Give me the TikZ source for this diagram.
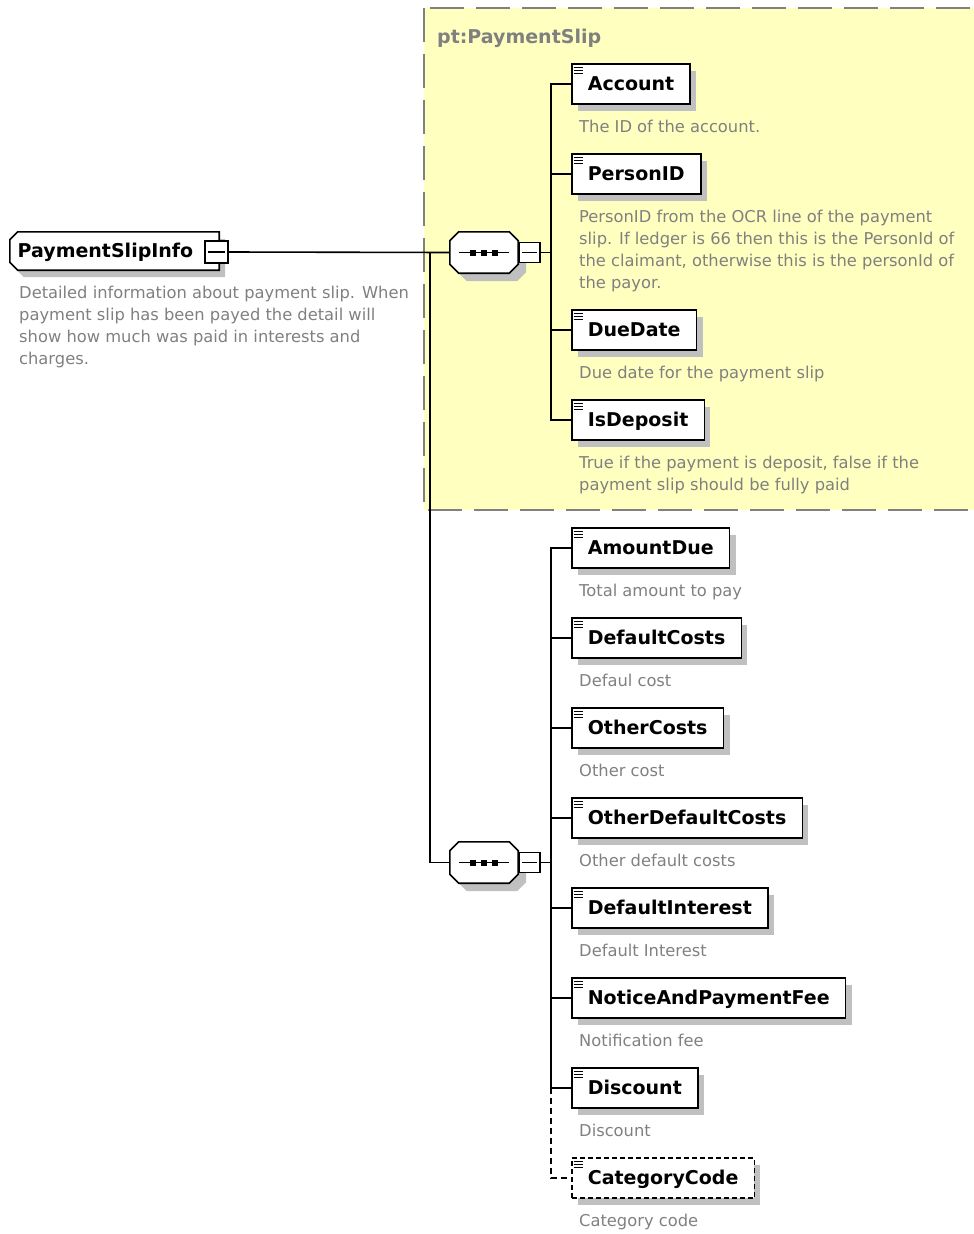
\documentclass[tikz,border=0pt]{standalone}
\usepackage{fontspec}
\setmainfont{DejaVu Sans}
\usetikzlibrary{calc,shadows}

\definecolor{slipyellow}{RGB}{255,255,192}
\definecolor{boxshadow}{RGB}{192,192,192}
\definecolor{doctext}{RGB}{128,128,128}
\definecolor{groupline}{RGB}{128,128,128}

\pgfdeclarelayer{bg}
\pgfdeclarelayer{wires}
\pgfdeclarelayer{outlines}
\pgfsetlayers{bg,wires,outlines,main}

\tikzset{
  shade box/.style={drop shadow={shadow xshift=6pt, shadow yshift=-7pt, fill=boxshadow, opacity=1}},
  labelfont/.style={font=\fontsize{19}{22}\selectfont\bfseries},
  elem/.style={draw, line width=1.6pt, fill=white, rectangle, anchor=west,
    minimum height=40pt, inner xsep=16pt, inner ysep=0pt,
    text height=15pt, text depth=3pt, labelfont, shade box},
  optelem/.style={elem, dash pattern=on 5pt off 3pt},
  rootbox/.style={rectangle, minimum width=209pt, minimum height=38pt,
    inner sep=0pt, text height=15pt, text depth=3pt, labelfont},
  seq/.style={rectangle, minimum width=68pt, minimum height=41pt, inner sep=0pt},
  outline/.style={draw, line width=1.6pt, fill=white},
  shadowfill/.style={fill=boxshadow},
  fold/.style={draw, line width=1.4pt, fill=white, rectangle, minimum width=21pt,
    minimum height=20pt, inner sep=0pt},
  doc/.style={anchor=base west, inner sep=0pt, text=doctext, font=\fontsize{16.3}{22}\selectfont},
  wire/.style={line width=1.6pt},
  optwire/.style={wire, dash pattern=on 6pt off 4pt},
  minus/.style={line width=1.5pt},
  icon/.style={line width=1.2pt},
}

% three-bar element marker in the upper left corner of a box
\newcommand\elemmark[1]{%
  \foreach \dy in {4,7,10} \draw[icon] ($(#1.north west)+(2.5,\dy)$) -- ++(9,0);}
% sequence compositor glyph: a bar with three dots
\newcommand\seqglyph[1]{%
  \draw[minus] ($(#1.west)+(9,0)$) -- ($(#1.east)+(-9,0)$);
  \foreach \dx in {-11,0,11} \fill ($(#1.center)+(\dx,0)$) ++(-3,-3) rectangle ++(6,6);}
% minus sign inside a fold box
\newcommand\foldminus[1]{%
  \draw[minus] ($(#1.west)+(3.5,0)$) -- ($(#1.east)+(-3.5,0)$);}
% octagon around a node, offset by (#2,#3), drawn with style #4
\newcommand\octagonpath[4]{%
  \path[#4] ($(#1.north west)+(#2+9,#3)$) -- ($(#1.north east)+(#2-9,#3)$)
    -- ($(#1.north east)+(#2,#3+9)$) -- ($(#1.south east)+(#2,#3-9)$)
    -- ($(#1.south east)+(#2-9,#3)$) -- ($(#1.south west)+(#2+9,#3)$)
    -- ($(#1.south west)+(#2,#3-9)$) -- ($(#1.north west)+(#2,#3+9)$) -- cycle;}
% box with both left corners cut, offset by (#2,#3), drawn with style #4
\newcommand\globalpath[4]{%
  \path[#4] ($(#1.north west)+(#2+8,#3)$) -- ($(#1.north east)+(#2,#3)$)
    -- ($(#1.south east)+(#2,#3)$) -- ($(#1.south west)+(#2+8,#3)$)
    -- ($(#1.south west)+(#2,#3-8)$) -- ($(#1.north west)+(#2,#3+8)$) -- cycle;}

\begin{document}
\begin{tikzpicture}[x=1pt, y=-1pt]
\path[use as bounding box] (0,0) rectangle (974,1234);

% ---- root element ----
\node[rootbox] (root) at (114.5,251) {PaymentSlipInfo\kern18pt};
\node[fold, minimum width=23pt, minimum height=22pt] (rootfold) at (216.5,252) {};
\foldminus{rootfold}
\node[doc] (rootdoc) at (19,298) {\parbox[t]{400pt}{\raggedright
  Detailed information about payment slip. When\\
  payment slip has been payed the detail will\\
  show how much was paid in interests and\\
  charges.}};

% ---- first sequence (group pt:PaymentSlip) ----
\node[anchor=base west, inner sep=0pt, text=groupline, labelfont] (grouptitle) at (437,43) {pt:PaymentSlip};
\node[seq] (seq1) at (484,252.5) {};
\seqglyph{seq1}
\node[fold, anchor=west] (fold1) at (seq1.east) {};
\foldminus{fold1}

\node[elem] (account) at (571,84) {Account};
\node[doc] (accountdoc) at (579,132) {The ID of the account.};
\node[elem] (personid) at (571,174) {PersonID};
\node[doc] (personiddoc) at (579,222) {\parbox[t]{400pt}{\raggedright
  PersonID from the OCR line of the payment\\
  slip. If ledger is 66 then this is the PersonId of\\
  the claimant, otherwise this is the personId of\\
  the payor.}};
\node[elem] (duedate) at (571,330) {DueDate};
\node[doc] (duedatedoc) at (579,378) {Due date for the payment slip};
\node[elem] (isdeposit) at (571,420) {IsDeposit};
\node[doc] (isdepositdoc) at (579,468) {\parbox[t]{400pt}{\raggedright
  True if the payment is deposit, false if the\\
  payment slip should be fully paid}};

% ---- second sequence ----
\node[seq] (seq2) at (484,862.5) {};
\seqglyph{seq2}
\node[fold, anchor=west] (fold2) at (seq2.east) {};
\foldminus{fold2}

\node[elem] (amountdue) at (571,548) {AmountDue};
\node[doc] (amountduedoc) at (579,596) {Total amount to pay};
\node[elem] (defaultcosts) at (571,638) {DefaultCosts};
\node[doc] (defaultcostsdoc) at (579,686) {Defaul cost};
\node[elem] (othercosts) at (571,728) {OtherCosts};
\node[doc] (othercostsdoc) at (579,776) {Other cost};
\node[elem] (otherdefault) at (571,818) {OtherDefaultCosts};
\node[doc] (otherdefaultdoc) at (579,866) {Other default costs};
\node[elem] (definterest) at (571,908) {DefaultInterest};
\node[doc] (definterestdoc) at (579,956) {Default Interest};
\node[elem] (noticefee) at (571,998) {NoticeAndPaymentFee};
\node[doc] (noticefeedoc) at (579,1046) {Notification fee};
\node[elem] (discount) at (571,1088) {Discount};
\node[doc] (discountdoc) at (579,1136) {Discount};
\node[optelem] (category) at (571,1178) {CategoryCode};
\node[doc] (categorydoc) at (579,1226) {Category code};

\foreach \n in {account,personid,duedate,isdeposit,amountdue,defaultcosts,othercosts,
  otherdefault,definterest,noticefee,discount,category} {\elemmark{\n}}

% ---- outlines of the root element and the compositors ----
\begin{pgfonlayer}{outlines}
  \globalpath{root}{6}{7}{shadowfill}
  \globalpath{root}{0}{0}{outline}
  \octagonpath{seq1}{8}{8}{shadowfill}
  \octagonpath{seq1}{0}{0}{outline}
  \octagonpath{seq2}{8}{8}{shadowfill}
  \octagonpath{seq2}{0}{0}{outline}
\end{pgfonlayer}

% ---- connectors ----
\coordinate (fork) at (430,252);
\coordinate (bus) at (551,0);
\begin{pgfonlayer}{wires}
  \draw[wire] (rootfold.east) -- (seq1.west);
  \draw[wire] (fork) |- (seq2.west);
  \foreach \n in {account,personid,duedate,isdeposit}
    \draw[wire] (fold1.east) -- (fold1.east -| bus) |- (\n.west);
  \foreach \n in {amountdue,defaultcosts,othercosts,otherdefault,definterest,noticefee,discount}
    \draw[wire] (fold2.east) -- (fold2.east -| bus) |- (\n.west);
  \draw[optwire] (bus |- discount.west) |- (category.west);
\end{pgfonlayer}

% ---- group frame ----
\begin{pgfonlayer}{bg}
  \begin{scope}
    \clip (0,0) rectangle (974,1234);
    \draw[fill=slipyellow, draw=groupline, line width=1.6pt, dash pattern=on 34pt off 12pt]
      (424,8) rectangle (1000,510);
  \end{scope}
\end{pgfonlayer}
\end{tikzpicture}
\end{document}
